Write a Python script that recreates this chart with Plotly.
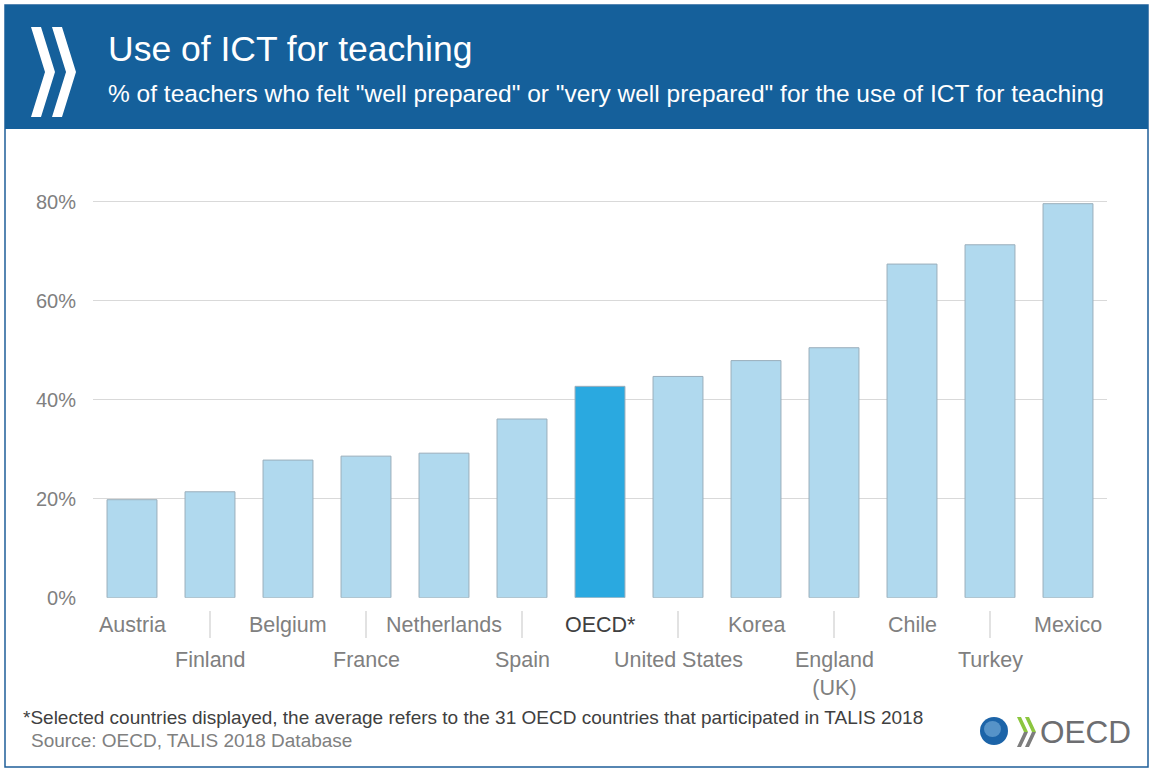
import plotly.graph_objects as go

W, H = 1159, 778
FIG_H = 789  # rendered picture comes out slightly squashed vertically

# ---------------------------------------------------------------------------
# Data
# ---------------------------------------------------------------------------
countries = ["Austria", "Finland", "Belgium", "France", "Netherlands", "Spain",
             "OECD*", "United States", "Korea", "England (UK)", "Chile",
             "Turkey", "Mexico"]
labels = ["Austria", "Finland", "Belgium", "France", "Netherlands", "Spain",
          "OECD*", "United States", "Korea", "England<br>(UK)", "Chile",
          "Turkey", "Mexico"]
values = [19.8, 21.4, 27.8, 28.6, 29.2, 36.1, 42.7, 44.7, 47.9, 50.5, 67.4, 71.3, 79.6]
y_ticks = [0, 20, 40, 60, 80]
y_tick_text = ["0%", "20%", "40%", "60%", "80%"]

# colours
C = {
    "banner": "#15609b",
    "bar": "#b0d9ee",
    "bar_hi": "#2aa9e0",
    "bar_line": "#9aaebb",
    "grid": "#d9d9d9",
    "tick": "#808080",
    "dark": "#404040",
}


def px(x):
    return x / W


def py(y):
    return 1 - y / H


def poly(points):
    """SVG path in paper coords from pixel points."""
    return "M " + " L ".join(f"{px(x):.5f},{py(y):.5f}" for x, y in points) + " Z"


def chevron(x0, top, bottom, w, depth):
    mid = (top + bottom) / 2
    return [(x0, top), (x0 + w, top), (x0 + w + depth, mid),
            (x0 + w, bottom), (x0, bottom), (x0 + depth, mid)]


fig = go.Figure()
fig.add_trace(go.Bar(
    x=countries, y=values,
    marker=dict(
        color=[C["bar_hi"] if c == "OECD*" else C["bar"] for c in countries],
        line=dict(color=C["bar_line"], width=1),
    ),
    hovertemplate="%{x}: %{y:.1f}%<extra></extra>",
))

shapes = []
# outer frame + header banner
shapes.append(dict(type="rect", xref="paper", yref="paper",
                   x0=px(5), x1=px(1148), y0=py(767), y1=py(5),
                   line=dict(color="#1f5f99", width=1.5), layer="below"))
shapes.append(dict(type="rect", xref="paper", yref="paper",
                   x0=px(5), x1=px(1148), y0=py(129), y1=py(5),
                   fillcolor=C["banner"], line=dict(width=0), layer="below"))
# header chevrons
for x0 in (31, 52):
    shapes.append(dict(type="path", xref="paper", yref="paper",
                       path=poly(chevron(x0, 27, 117, 10, 14)),
                       fillcolor="white", line=dict(width=0)))

# separators between staggered labels
for i, c in enumerate(countries):
    if i % 2 == 1:
        shapes.append(dict(type="line", xref="x", yref="paper",
                           x0=i, x1=i, y0=py(638), y1=py(611),
                           line=dict(color="#cfcfcf", width=1.2)))

# OECD logo (bottom right)
shapes.append(dict(type="circle", xref="paper", yref="paper",
                   x0=px(980), x1=px(1008), y0=py(745), y1=py(717),
                   fillcolor="#1c64a8", line=dict(width=0)))
shapes.append(dict(type="circle", xref="paper", yref="paper",
                   x0=px(984), x1=px(1001), y0=py(737), y1=py(721),
                   fillcolor="#6fa7d6", line=dict(width=0), opacity=0.7))
for x0 in (1017, 1025):
    ch = chevron(x0, 717, 747, 4, 7)
    shapes.append(dict(type="path", xref="paper", yref="paper",
                       path=poly(ch[:3] + [ch[5]]), fillcolor="#8cc63f",
                       line=dict(width=0)))
    shapes.append(dict(type="path", xref="paper", yref="paper",
                       path=poly([ch[5], ch[2], ch[3], ch[4]]), fillcolor="#7d7d7d",
                       line=dict(width=0)))

annotations = []
annotations.append(dict(text="Use of ICT for teaching", xref="paper", yref="paper",
                        x=px(106), y=py(49), xanchor="left", yanchor="middle",
                        showarrow=False, font=dict(size=35.5, color="white")))
annotations.append(dict(text='% of teachers who felt "well prepared" or "very well prepared" '
                             'for the use of ICT for teaching',
                        xref="paper", yref="paper", x=px(106), y=py(93),
                        xanchor="left", yanchor="middle", showarrow=False,
                        font=dict(size=24.5, color="white")))
# staggered category labels
for i, (c, lab) in enumerate(zip(countries, labels)):
    top = 611 if i % 2 == 0 else 646
    annotations.append(dict(text=lab, xref="x", yref="paper", x=c, y=py(top),
                            xanchor="center", yanchor="top", showarrow=False,
                            font=dict(size=21.5, color=C["dark"] if c == "OECD*" else C["tick"])))
annotations.append(dict(text="*Selected countries displayed, the average refers to the 31 OECD "
                             "countries that participated in TALIS 2018",
                        xref="paper", yref="paper", x=px(21), y=py(717),
                        xanchor="left", yanchor="middle", showarrow=False,
                        font=dict(size=19, color=C["dark"])))
annotations.append(dict(text="Source: OECD, TALIS 2018 Database",
                        xref="paper", yref="paper", x=px(29), y=py(740),
                        xanchor="left", yanchor="middle", showarrow=False,
                        font=dict(size=19, color=C["tick"])))
annotations.append(dict(text="OECD", xref="paper", yref="paper", x=px(1038), y=py(732),
                        xanchor="left", yanchor="middle", showarrow=False,
                        font=dict(size=31.5, color="#6d6e71")))

y0_px, unit = 597.7, 4.95
y_max = 84
fig.update_layout(
    width=W, height=FIG_H,
    margin=dict(l=0, r=0, t=0, b=0),
    paper_bgcolor="white", plot_bgcolor="white",
    font=dict(family="Liberation Sans, Arial, sans-serif"),
    showlegend=False,
    bargap=0.36,
    shapes=shapes,
    annotations=annotations,
    xaxis=dict(domain=[px(93), px(1107)], showticklabels=False, showgrid=False,
               zeroline=False, showline=False, fixedrange=True),
    yaxis=dict(domain=[py(y0_px), py(y0_px - y_max * unit)], range=[0, y_max],
               tickmode="array", tickvals=y_ticks, ticktext=y_tick_text,
               showgrid=True, gridcolor=C["grid"], gridwidth=1.2, zeroline=False,
               tickfont=dict(size=20, color=C["tick"]), ticklabelstandoff=16,
               fixedrange=True),
)

fig.write_html(
    "out.html",
    config={"displayModeBar": False},
    post_script=("document.body.style.margin='0';"),
)
